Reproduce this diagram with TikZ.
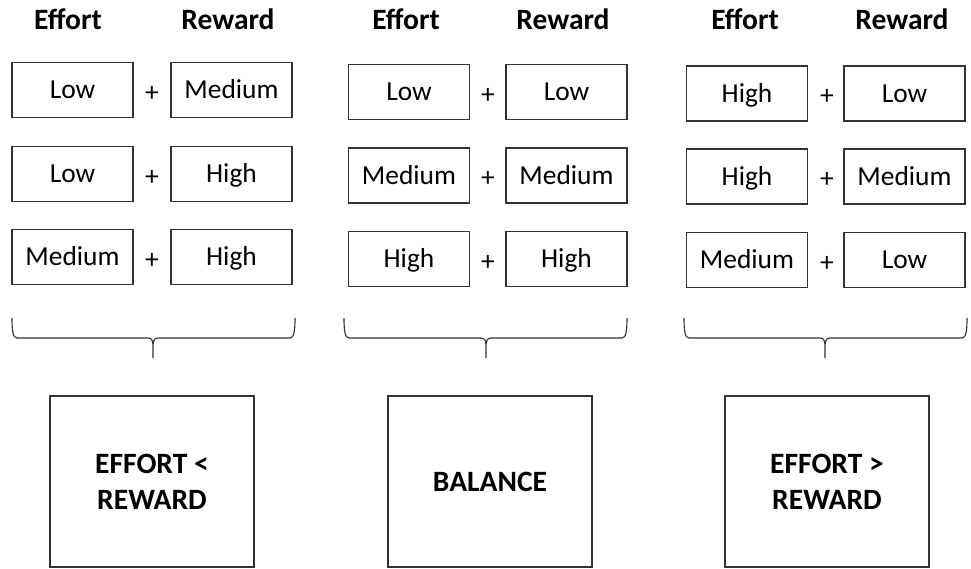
\documentclass[tikz,border=0pt]{standalone}
\usepackage{fontspec}
\setmainfont{Carlito}

\newcommand{\drawbrace}[3]{%
  \draw[brace] (#1,318) .. controls (#1,331) and (#1+1,338) .. (#1+5,338) -- (#2-5,338)
    .. controls (#2-1,338) and (#2,341) .. (#2,347) -- (#2,358)
    (#2,347) .. controls (#2,341) and (#2+1,338) .. (#2+5,338) -- (#3-5,338)
    .. controls (#3-1,338) and (#3,331) .. (#3,318);}

\begin{document}
\begin{tikzpicture}[x=0.025cm, y=-0.025cm]
  \tikzstyle{level}=[draw=black!80, line width=0.8pt, minimum width=3.025cm, minimum height=1.375cm, inner sep=0pt, font=\fontsize{19.5}{22}\selectfont, text height=12.3pt, text depth=0pt];
  \tikzstyle{head}=[inner sep=0pt, font=\bfseries\fontsize{21}{24}\selectfont, text height=13.2pt, text depth=0pt];
  \tikzstyle{plus}=[inner sep=0pt, font=\fontsize{19.5}{22}\selectfont];
  \tikzstyle{result}=[draw=black!80, line width=0.8pt, minimum width=5.1cm, minimum height=4.275cm, align=center, font=\bfseries\fontsize{21}{25.5}\selectfont];
  \tikzstyle{brace}=[black!80, line width=0.8pt];

  \useasboundingbox (0,0) rectangle (971,568);

  % effort < reward
  \node [head] at (68,20)      (EffortHeadA) {Effort};
  \node [head] at (228,20)     (RewardHeadA) {Reward};
  \node [level] at (72.5,90)   (EffortA1) {Low};
  \node [plus]  at (152,93.5)  (PlusA1)   {+};
  \node [level] at (231.5,90)  (RewardA1) {Medium};
  \node [level] at (72.5,174)  (EffortA2) {Low};
  \node [plus]  at (152,177.5) (PlusA2)   {+};
  \node [level] at (231.5,174) (RewardA2) {High};
  \node [level] at (72.5,257)  (EffortA3) {Medium};
  \node [plus]  at (152,260.5) (PlusA3)   {+};
  \node [level] at (231.5,257) (RewardA3) {High};
  \drawbrace{12}{153}{295}
  \node [result] at (152,481.5) (ResultA) {EFFORT <\\REWARD};

  % balance
  \node [head] at (406,20)     (EffortHeadB) {Effort};
  \node [head] at (563,20)     (RewardHeadB) {Reward};
  \node [level] at (409,92)    (EffortB1) {Low};
  \node [plus]  at (488,95.5)  (PlusB1)   {+};
  \node [level] at (566.5,92)  (RewardB1) {Low};
  \node [level] at (409,175.5) (EffortB2) {Medium};
  \node [plus]  at (488,179)   (PlusB2)   {+};
  \node [level] at (566.5,175.5) (RewardB2) {Medium};
  \node [level] at (409,259)   (EffortB3) {High};
  \node [plus]  at (488,262.5) (PlusB3)   {+};
  \node [level] at (566.5,259) (RewardB3) {High};
  \drawbrace{344}{486}{627}
  \node [result] at (490,481.5) (ResultB) {BALANCE};

  % effort > reward
  \node [head] at (745,20)     (EffortHeadC) {Effort};
  \node [head] at (902,20)     (RewardHeadC) {Reward};
  \node [level] at (747,93.5)  (EffortC1) {High};
  \node [plus]  at (827,97)    (PlusC1)   {+};
  \node [level] at (904.5,93.5) (RewardC1) {Low};
  \node [level] at (747,176.5) (EffortC2) {High};
  \node [plus]  at (827,180)   (PlusC2)   {+};
  \node [level] at (904.5,176.5) (RewardC2) {Medium};
  \node [level] at (747,260)   (EffortC3) {Medium};
  \node [plus]  at (827,263.5) (PlusC3)   {+};
  \node [level] at (904.5,260) (RewardC3) {Low};
  \drawbrace{684}{825}{967}
  \node [result] at (827,481.5) (ResultC) {EFFORT >\\REWARD};
\end{tikzpicture}
\end{document}
